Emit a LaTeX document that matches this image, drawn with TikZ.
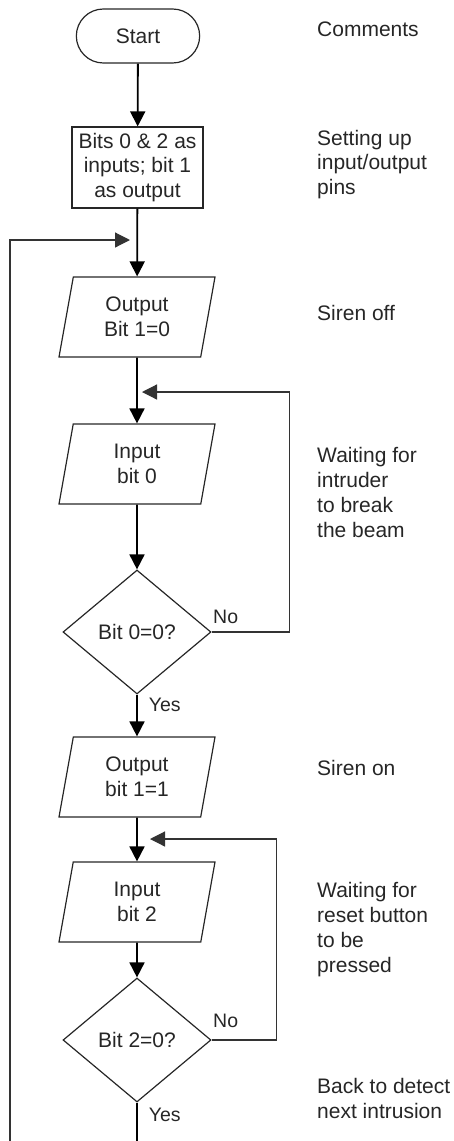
\documentclass[tikz,border=0pt]{standalone}
\usepackage{fontspec}
\setmainfont{Liberation Sans}
\usetikzlibrary{arrows.meta,shapes.geometric,shapes.misc}

\begin{document}
\begin{tikzpicture}[x=1pt, y=-1pt,
    every node/.style={font=\fontsize{21pt}{24.7pt}\selectfont, text=black!85},
    terminal/.style={draw=black!85, line width=1.2pt, rounded rectangle, minimum width=130pt, minimum height=54pt},
    process/.style={draw=black!85, line width=1.2pt, rectangle, minimum width=131pt, minimum height=81pt, align=center, inner sep=1pt},
    io/.style={draw=black!85, line width=1.2pt, trapezium, trapezium left angle=71, trapezium right angle=109, trapezium stretches body, minimum width=156pt, minimum height=80pt, align=center, inner sep=1pt},
    decision/.style={draw=black!85, line width=1.2pt, diamond, minimum width=148pt, minimum height=124pt, inner sep=0pt},
    comment/.style={anchor=base west, align=left, inner sep=0pt},
    answer/.style={inner sep=1pt, anchor=west, font=\fontsize{19.5pt}{22pt}\selectfont},
    flow/.style={-{Triangle[length=15pt, width=15pt]}, line width=1.8pt},
    loopline/.style={-{Triangle[length=15pt, width=15pt]}, line width=1.2pt, draw=black!80}
]
\useasboundingbox (0,0) rectangle (453,1141);

% flowchart column
\node[terminal] (start) at (138,36) {Start};
\node[process] (setup) at (137.5,167.5) {Bits 0 \& 2 as\\inputs; bit 1\\as output};
\node[io] (sirenoff) at (137,317) {Output\\Bit 1=0};
\node[io] (readbeam) at (137,464) {Input\\bit 0};
\node[decision] (beamtest) at (137,632) {Bit 0=0?};
\node[io] (sirenon) at (137,777) {Output\\bit 1=1};
\node[io] (readreset) at (137,902) {Input\\bit 2};
\node[decision] (resettest) at (137,1040) {Bit 2=0?};

\coordinate (mainjoin) at (130,240);
\coordinate (beamjoin) at (142,392);
\coordinate (resetjoin) at (150,839);
\coordinate (leftend) at (10,1141);
\coordinate (exit) at (137,1141);

% comments column (base = last line)
\node[comment] (comhead) at (317,36) {Comments};
\node[comment] (comsetup) at (317,194.5) {Setting up\\input/output\\pins};
\node[comment] (comoff) at (317,320) {Siren off};
\node[comment] (combeam) at (317,537) {Waiting for\\intruder\\to break\\the beam};
\node[comment] (comon) at (317,775) {Siren on};
\node[comment] (comreset) at (317,972) {Waiting for\\reset button\\to be\\pressed};
\node[comment] (comback) at (317,1118.5) {Back to detect\\next intrusion};

\draw[flow] (start) -- (setup);
\draw[flow] (setup) -- (sirenoff);
\draw[flow] (sirenoff) -- (readbeam);
\draw[flow] (readbeam) -- (beamtest);
\draw[flow] (beamtest) -- node[answer, pos=0, xshift=10pt, yshift=-10pt] (yes1) {Yes} (sirenon);
\draw[flow] (sirenon) -- (readreset);
\draw[flow] (readreset) -- (resettest);
\draw[line width=1.8pt] (resettest.south) -- node[answer, pos=0, xshift=10pt, yshift=-12pt] (yes2) {Yes} (exit);

\draw[loopline] (beamtest.east) -- node[answer, pos=0, yshift=15pt] (no1) {No} ++(78,0) |- (beamjoin);
\draw[loopline] (resettest.east) -- node[answer, pos=0, yshift=19pt] (no2) {No} ++(65,0) |- (resetjoin);
\draw[loopline] (leftend) |- (mainjoin);
\end{tikzpicture}
\end{document}
